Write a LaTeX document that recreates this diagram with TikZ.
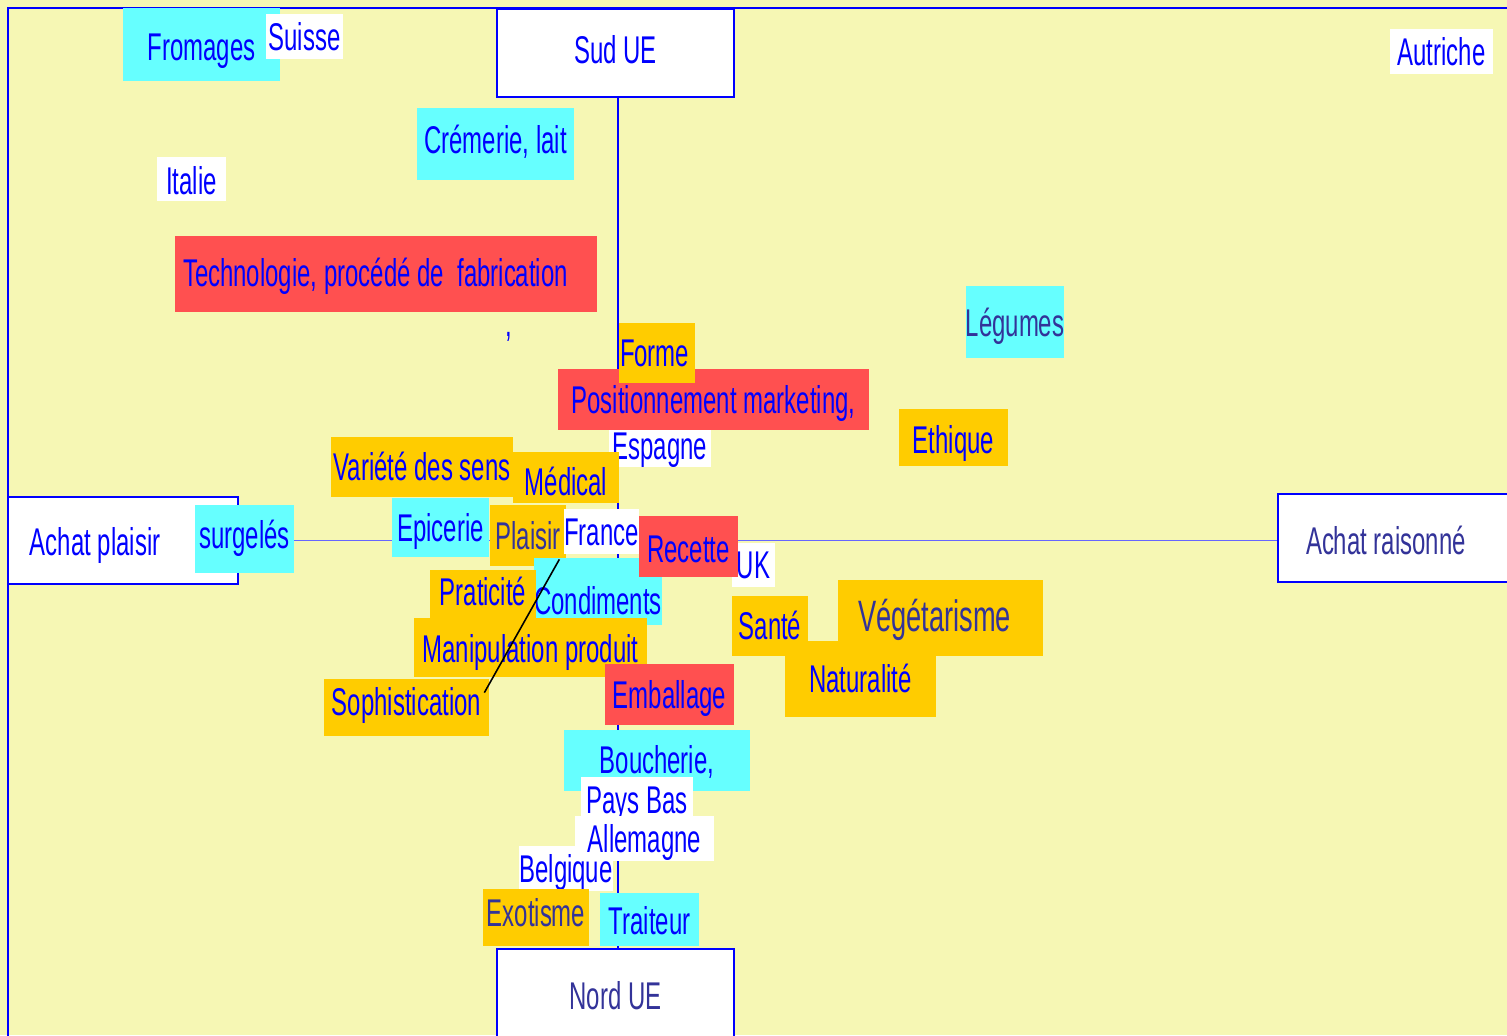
\documentclass[tikz,border=0pt]{standalone}
\usepackage{fontspec}
\setmainfont[FakeStretch=0.62]{Liberation Sans}
\usepackage{tikz}
\definecolor{fond}{HTML}{F6F7B4}
\definecolor{bleu}{HTML}{0000FF}
\definecolor{marine}{HTML}{333399}
\definecolor{cyanc}{HTML}{66FFFF}
\definecolor{orangec}{HTML}{FFCC00}
\definecolor{rougec}{HTML}{FF5050}
\definecolor{bleuclair}{HTML}{6666FF}
\newlength\px
\setlength\px{0.02cm}
% texte cale a gauche dans une boite de largeur donnee
\newcommand{\gauche}[3]{\makebox[#1][l]{\hspace*{#2}#3}}

\begin{document}
\begin{tikzpicture}[x=0.02cm, y=-0.02cm,
  etiq/.style={inner sep=0pt, text=bleu, font=\fontsize{22}{26}\selectfont,
               text height=15.8pt, text depth=0pt},
  texte/.style={text height=#1pt},
  taille/.style 2 args={minimum width=#1*0.02cm, minimum height=#2*0.02cm},
  boxcy/.style={etiq, fill=cyanc},
  boxor/.style={etiq, fill=orangec},
  boxro/.style={etiq, fill=rougec},
  boxbl/.style={etiq, fill=white},
  pole/.style={etiq, fill=white, draw=bleu, line width=1.2pt},
  axe/.style={bleu, line width=1.1pt},
  axeh/.style={bleuclair, line width=0.7pt},
  lien/.style={black, line width=0.9pt}
]
  \useasboundingbox (0,0) rectangle (1507,1035);
  \fill[fond] (0,0) rectangle (1507,1035);
  % Cadre
  \draw[bleu, line width=1.2pt] (8,8) rectangle (1530,1060);

  % Poles
  \node[pole, taille={237}{88}, texte=12.4] (sud) at (615.5,53) {Sud UE};
  \node[pole, taille={237}{91}, texte=17.5, text=marine] (nord) at (615.5,994.5) {Nord UE};
  \node[pole, taille={230}{87}, texte=17] (achatp) at (123,540.5) {\gauche{230\px}{22\px}{Achat plaisir}};
  \node[pole, taille={242}{88}, texte=18.6, text=marine] (achatr) at (1399,538) {\gauche{242\px}{28\px}{Achat raisonné}};

  % Axes
  \draw[axe] ([xshift=0.05cm]sud.south) -- ([xshift=0.05cm]nord.north);
  \draw[axeh] (achatp.east) -- (achatp.east -| achatr.west);

  % Haut
  \node[boxcy, taille={157}{73}, texte=18.6] (fromages) at (201.5,44.5) {Fromages};
  \node[boxbl, taille={77}{45}] (suisse) at (304.5,36.5) {Suisse};
  \node[boxbl, taille={103}{45}] (autriche) at (1441.5,51.5) {Autriche};
  \node[boxcy, taille={157}{72}, texte=10.7] (cremerie) at (495.5,144) {Crémerie, lait};
  \node[boxbl, taille={69}{44}, texte=18.1] (italie) at (191.5,179) {Italie};
  \node[boxro, taille={422}{76}, texte=14.7] (techno) at (386,274) {\gauche{422\px}{8\px}{Technologie, procédé de~ fabrication}};
  \node[etiq, texte=0] (virgule) at (509,336) {,};
  \node[boxcy, taille={98}{72}, texte=17, text=marine] (legumes) at (1015,322) {Légumes};
  \node[boxro, taille={311}{61}] (position) at (713.5,399.5) {Positionnement marketing,};
  \node[boxor, taille={76}{60}] (forme) at (657,353) {\gauche{76\px}{1\px}{Forme}};
  \node[boxbl, taille={102}{37}, texte=12.4] (espagne) at (660,448.5) {Espagne};
  \node[boxor, taille={109}{57}, texte=18.6] (ethique) at (953.5,437.5) {Ethique};

  % Centre
  \node[boxor, taille={182}{60}] (variete) at (422,467) {Variété des sens};
  \node[boxor, taille={106}{51}, texte=20.9] (medical) at (566,477.5) {Médical};
  \node[boxcy, taille={99}{68}, texte=11.2] (surgeles) at (244.5,539) {surgelés};
  \node[boxcy, taille={97}{59}] (epicerie) at (440.5,527.5) {Epicerie};
  \node[boxor, taille={76}{61}, text=marine] (plaisir) at (528,535.5) {Plaisir};
  \node[boxbl, taille={71}{45}] (france) at (601.5,531.5) {France};
  \node[boxcy, taille={124}{67}, texte=26.6] (condiments) at (598,591.5) {Condiments};
  \node[boxbl, taille={43}{44}] (uk) at (753.5,565) {UK};
  \node[boxro, taille={99}{61}, texte=18.6] (recette) at (688.5,546.5) {Recette};
  \node[boxor, taille={106}{48}, texte=13.5] (praticite) at (483,594) {Praticité};
  \node[boxor, taille={233}{59}, texte=17] (manip) at (530.5,647.5) {Manipulation produit};
  \node[boxro, taille={129}{61}] (emballage) at (669.5,694.5) {Emballage};
  \node[boxor, taille={165}{57}, texte=9] (sophis) at (406.5,707.5) {Sophistication};

  % Droite
  \node[boxor, taille={76}{60}] (sante) at (770,626) {Santé};
  \node[boxor, taille={205}{76}, texte=15.6, text=marine, font=\fontsize{25}{29}\selectfont] (vege) at (940.5,618) {\gauche{205\px}{20\px}{Végétarisme}};
  \node[boxor, taille={151}{76}] (natur) at (860.5,679) {Naturalité};

  % Bas
  \node[boxcy, taille={186}{61}, texte=14.7] (boucherie) at (657,760.5) {Boucherie,};
  \node[boxbl, taille={112}{40}, texte=19.2] (paysbas) at (637,797) {Pays Bas};
  \node[boxbl, taille={92}{45}] (belgique) at (566,868.5) {Belgique};
  \node[boxbl, taille={139}{45}] (allemagne) at (644.5,838.5) {Allemagne};
  \node[boxor, taille={106}{57}, texte=10.7, text=marine] (exotisme) at (536,917.5) {Exotisme};
  \node[boxcy, taille={99}{53}, texte=17.5] (traiteur) at (649.5,919.5) {Traiteur};

  \draw[lien] ([shift={(-7,-7)}]plaisir.south east) -- ([shift={(-5,14)}]sophis.north east);
\end{tikzpicture}
\end{document}
